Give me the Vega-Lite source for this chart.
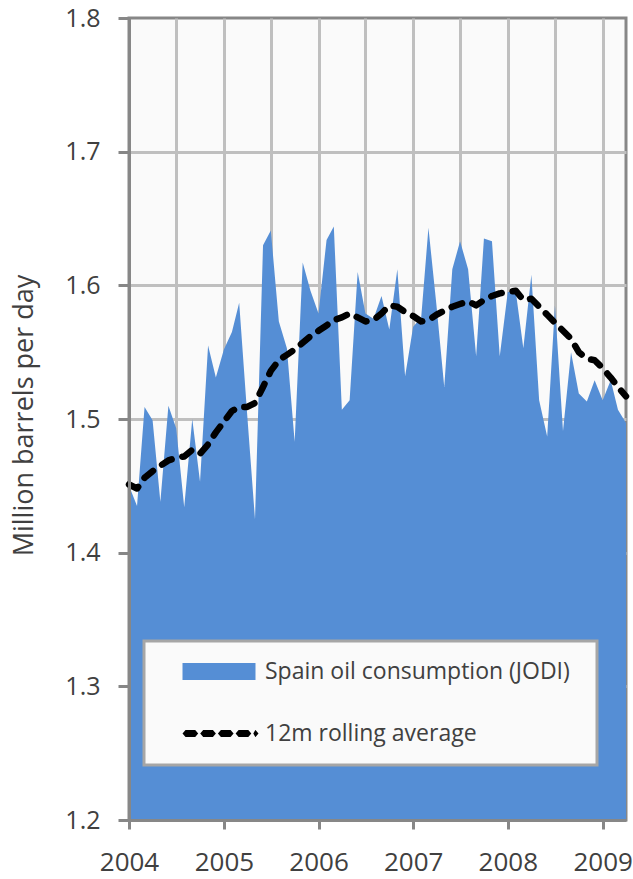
{
  "$schema": "https://vega.github.io/schema/vega-lite/v6.json",
  "width": 497,
  "height": 802,
  "autosize": {"type": "none"},
  "padding": {"left": 129, "top": 18, "right": 7, "bottom": 59},
  "background": "white",
  "config": {
    "view": {"fill": "#FAFAFA", "stroke": "#878787", "strokeWidth": 3},
    "font": "Open Sans"
  },
  "data": {
    "values": [
      {"date": "2004-01-01", "consumption": 1.450, "avg": 1.451},
      {"date": "2004-02-01", "consumption": 1.435, "avg": 1.448},
      {"date": "2004-03-01", "consumption": 1.509, "avg": 1.456},
      {"date": "2004-04-01", "consumption": 1.499, "avg": 1.461},
      {"date": "2004-05-01", "consumption": 1.438, "avg": 1.465},
      {"date": "2004-06-01", "consumption": 1.510, "avg": 1.469},
      {"date": "2004-07-01", "consumption": 1.493, "avg": 1.471},
      {"date": "2004-08-01", "consumption": 1.434, "avg": 1.472},
      {"date": "2004-09-01", "consumption": 1.500, "avg": 1.477},
      {"date": "2004-10-01", "consumption": 1.453, "avg": 1.474},
      {"date": "2004-11-01", "consumption": 1.555, "avg": 1.481},
      {"date": "2004-12-01", "consumption": 1.531, "avg": 1.490},
      {"date": "2005-01-01", "consumption": 1.552, "avg": 1.498},
      {"date": "2005-02-01", "consumption": 1.565, "avg": 1.506},
      {"date": "2005-03-01", "consumption": 1.587, "avg": 1.509},
      {"date": "2005-04-01", "consumption": 1.503, "avg": 1.509},
      {"date": "2005-05-01", "consumption": 1.425, "avg": 1.512},
      {"date": "2005-06-01", "consumption": 1.630, "avg": 1.524},
      {"date": "2005-07-01", "consumption": 1.641, "avg": 1.536},
      {"date": "2005-08-01", "consumption": 1.573, "avg": 1.544},
      {"date": "2005-09-01", "consumption": 1.553, "avg": 1.548},
      {"date": "2005-10-01", "consumption": 1.483, "avg": 1.552},
      {"date": "2005-11-01", "consumption": 1.617, "avg": 1.557},
      {"date": "2005-12-01", "consumption": 1.596, "avg": 1.562},
      {"date": "2006-01-01", "consumption": 1.579, "avg": 1.566},
      {"date": "2006-02-01", "consumption": 1.634, "avg": 1.570},
      {"date": "2006-03-01", "consumption": 1.644, "avg": 1.574},
      {"date": "2006-04-01", "consumption": 1.507, "avg": 1.576},
      {"date": "2006-05-01", "consumption": 1.514, "avg": 1.579},
      {"date": "2006-06-01", "consumption": 1.610, "avg": 1.576},
      {"date": "2006-07-01", "consumption": 1.579, "avg": 1.573},
      {"date": "2006-08-01", "consumption": 1.575, "avg": 1.574},
      {"date": "2006-09-01", "consumption": 1.592, "avg": 1.579},
      {"date": "2006-10-01", "consumption": 1.567, "avg": 1.585},
      {"date": "2006-11-01", "consumption": 1.612, "avg": 1.584},
      {"date": "2006-12-01", "consumption": 1.532, "avg": 1.580},
      {"date": "2007-01-01", "consumption": 1.569, "avg": 1.577},
      {"date": "2007-02-01", "consumption": 1.576, "avg": 1.573},
      {"date": "2007-03-01", "consumption": 1.643, "avg": 1.574},
      {"date": "2007-04-01", "consumption": 1.585, "avg": 1.578},
      {"date": "2007-05-01", "consumption": 1.524, "avg": 1.581},
      {"date": "2007-06-01", "consumption": 1.612, "avg": 1.584},
      {"date": "2007-07-01", "consumption": 1.633, "avg": 1.586},
      {"date": "2007-08-01", "consumption": 1.612, "avg": 1.588},
      {"date": "2007-09-01", "consumption": 1.547, "avg": 1.585},
      {"date": "2007-10-01", "consumption": 1.635, "avg": 1.589},
      {"date": "2007-11-01", "consumption": 1.633, "avg": 1.592},
      {"date": "2007-12-01", "consumption": 1.547, "avg": 1.594},
      {"date": "2008-01-01", "consumption": 1.595, "avg": 1.595},
      {"date": "2008-02-01", "consumption": 1.595, "avg": 1.596},
      {"date": "2008-03-01", "consumption": 1.553, "avg": 1.589},
      {"date": "2008-04-01", "consumption": 1.608, "avg": 1.590},
      {"date": "2008-05-01", "consumption": 1.514, "avg": 1.584},
      {"date": "2008-06-01", "consumption": 1.487, "avg": 1.578},
      {"date": "2008-07-01", "consumption": 1.585, "avg": 1.572},
      {"date": "2008-08-01", "consumption": 1.491, "avg": 1.566},
      {"date": "2008-09-01", "consumption": 1.550, "avg": 1.560},
      {"date": "2008-10-01", "consumption": 1.519, "avg": 1.550},
      {"date": "2008-11-01", "consumption": 1.513, "avg": 1.545},
      {"date": "2008-12-01", "consumption": 1.529, "avg": 1.544},
      {"date": "2009-01-01", "consumption": 1.514, "avg": 1.538},
      {"date": "2009-02-01", "consumption": 1.529, "avg": 1.531},
      {"date": "2009-03-01", "consumption": 1.507, "avg": 1.524},
      {"date": "2009-04-01", "consumption": 1.497, "avg": 1.517}
    ]
  },
  "resolve": {"axis": {"x": "independent", "y": "independent"}},
  "layer": [
    {
      "mark": {"type": "area", "interpolate": "linear"},
      "encoding": {
        "x": {
          "field": "date", "type": "temporal",
          "scale": {"type": "utc", "domain": [{"year": 2004, "month": 1, "date": 1, "utc": true}, {"year": 2009, "month": 4, "date": 1, "utc": true}]},
          "axis": {
            "orient": "bottom", "title": null, "grid": true, "domain": false, "ticks": false, "labels": false,
            "gridColor": "#BFBFBF", "gridWidth": 3, "zindex": 0,
            "values": [
              {"year": 2004, "month": 7, "date": 1, "utc": true},
              {"year": 2005, "month": 1, "date": 1, "utc": true},
              {"year": 2005, "month": 7, "date": 1, "utc": true},
              {"year": 2006, "month": 1, "date": 1, "utc": true},
              {"year": 2006, "month": 7, "date": 1, "utc": true},
              {"year": 2007, "month": 1, "date": 1, "utc": true},
              {"year": 2007, "month": 7, "date": 1, "utc": true},
              {"year": 2008, "month": 1, "date": 1, "utc": true},
              {"year": 2008, "month": 7, "date": 1, "utc": true},
              {"year": 2009, "month": 1, "date": 1, "utc": true}
            ]
          }
        },
        "y": {
          "field": "consumption", "type": "quantitative",
          "scale": {"domain": [1.2, 1.8], "zero": false, "nice": false},
          "axis": {
            "orient": "left", "title": null, "grid": true, "domain": false, "ticks": false, "labels": false,
            "gridColor": "#BFBFBF", "gridWidth": 3, "zindex": 0,
            "values": [1.3, 1.4, 1.5, 1.6, 1.7]
          }
        },
        "y2": {"datum": 1.2},
        "color": {
          "datum": "Spain oil consumption (JODI)",
          "scale": {"domain": ["Spain oil consumption (JODI)", "12m rolling average"], "range": ["#558ED5", "#000000"]},
          "legend": {
            "title": " ",
            "titleOrient": "right", "titlePadding": 8, "titleFontSize": 8,
            "orient": "none", "legendX": 15, "legendY": 623,
            "padding": 19,
            "fillColor": "#FAFAFA", "strokeColor": "#A6A6A6",
            "symbolSize": 400, "symbolOffset": 18, "labelOffset": 61,
            "symbolStrokeWidth": 0,
            "labelFont": "Open Sans", "labelFontSize": 23, "labelColor": "#404040", "labelLimit": 0,
            "rowPadding": 38,
            "encoding": {
              "legend": {"strokeWidth": {"value": 3}},
              "symbols": {
                "shape": {
                  "condition": {"test": "datum.value === 'Spain oil consumption (JODI)'", "value": "M-1,-0.85H6.3V0.85H-1Z"},
                  "value": "M-0.7,-0.35H0.27L0.57,0L0.27,0.35H-0.7L-1,0Z M1.07,-0.35H2.04L2.34,0L2.04,0.35H1.07L0.77,0Z M2.84,-0.35H3.81L4.11,0L3.81,0.35H2.84L2.54,0Z M4.61,-0.35H5.58L5.88,0L5.58,0.35H4.61L4.31,0Z M6.28,-0.35H6.3L6.6,0L6.3,0.35H6.28L6.08,0Z"
                }
              }
            }
          }
        }
      }
    },
    {
      "mark": {"type": "line", "color": "#000000", "strokeWidth": 6.5, "strokeDash": [11, 11], "strokeCap": "round", "strokeJoin": "round"},
      "encoding": {
        "x": {
          "field": "date", "type": "temporal",
          "axis": {
            "orient": "bottom", "title": null, "grid": false, "zindex": 1,
            "values": [
              {"year": 2004, "month": 1, "date": 1, "utc": true},
              {"year": 2005, "month": 1, "date": 1, "utc": true},
              {"year": 2006, "month": 1, "date": 1, "utc": true},
              {"year": 2007, "month": 1, "date": 1, "utc": true},
              {"year": 2008, "month": 1, "date": 1, "utc": true},
              {"year": 2009, "month": 1, "date": 1, "utc": true}
            ],
            "format": "%Y",
            "domainColor": "#878787", "domainWidth": 3,
            "tickColor": "#878787", "tickWidth": 3, "tickSize": 9,
            "labelFont": "Open Sans", "labelFontSize": 26, "labelColor": "#404040", "labelPadding": 20,
            "labelFlush": false, "labelOverlap": false
          }
        },
        "y": {
          "field": "avg", "type": "quantitative",
          "axis": {
            "orient": "left", "grid": false, "zindex": 1,
            "values": [1.2, 1.3, 1.4, 1.5, 1.6, 1.7, 1.8],
            "format": ".1f",
            "domainColor": "#878787", "domainWidth": 3,
            "tickColor": "#878787", "tickWidth": 3, "tickSize": 11,
            "labelFont": "Open Sans", "labelFontSize": 25, "labelColor": "#404040", "labelPadding": 18,
            "labelFlush": false, "labelOverlap": false,
            "title": "Million barrels per day",
            "titleFont": "Open Sans", "titleFontSize": 27, "titleFontWeight": "normal", "titleColor": "#404040",
            "titleX": -91, "titleY": 397
          }
        }
      }
    }
  ]
}
